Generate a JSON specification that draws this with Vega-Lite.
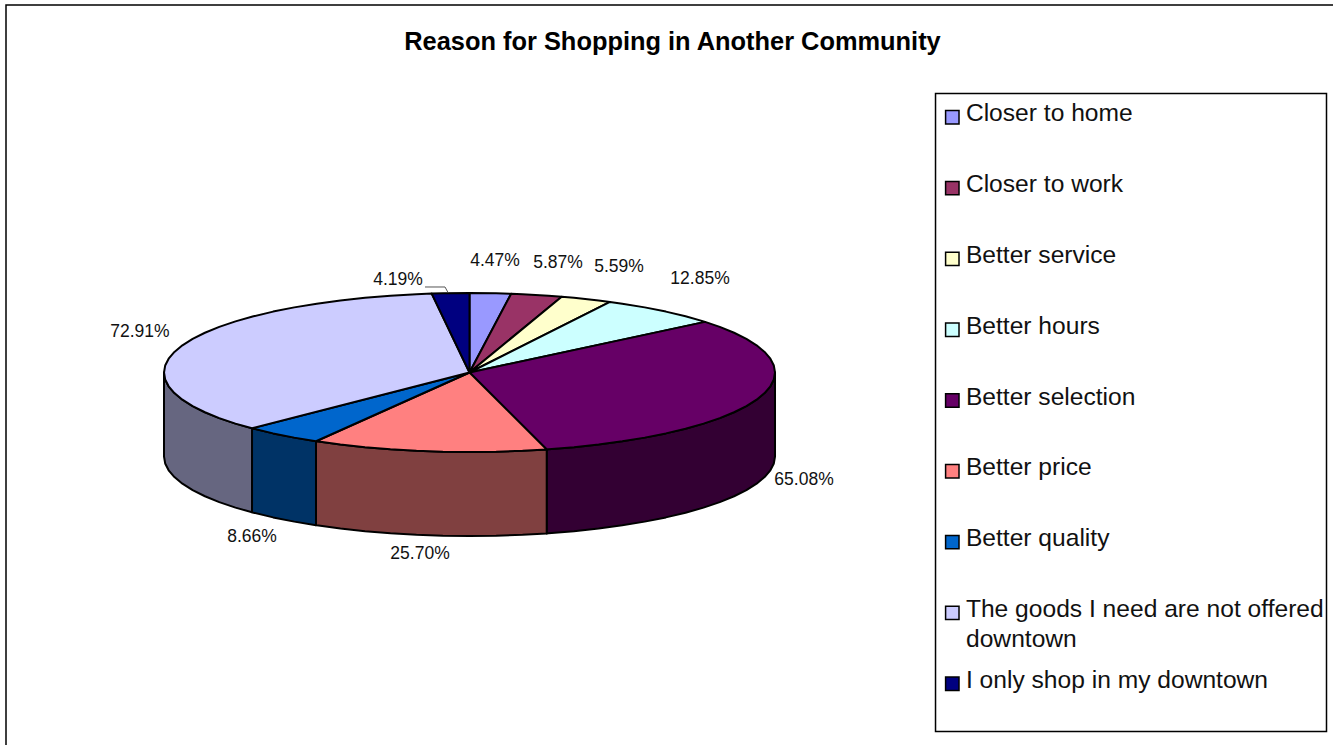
{
"$schema":"https://vega.github.io/schema/vega-lite/v6.json",
"width":1326,"height":740,
"autosize":{"type":"none"},
"padding":{"left":6,"top":5,"right":1,"bottom":0},
"background":"white",
"view":{"stroke":null},
"title":{"text":"Reason for Shopping in Another Community","font":"Liberation Sans","fontSize":25.4,"fontWeight":"bold","color":"black","anchor":"middle","offset":-51,"dx":3.5},
"datasets":{
"frames":[
{"name":"chart","x":-1.5172,"x2":2.9,"y":4.6226,"y2":-5.0},
{"name":"legend","x":1.5254,"x2":2.8052,"y":3.5094,"y2":-4.5157}],
"shares":[
{"slice":"Closer to home","share":4.47,"x":0.0835,"y":1.402},
{"slice":"Closer to work","share":5.87,"x":0.2897,"y":1.377},
{"slice":"Better service","share":5.59,"x":0.4894,"y":1.327},
{"slice":"Better hours","share":12.85,"x":0.7545,"y":1.176},
{"slice":"Better selection","share":65.08,"x":1.095,"y":-1.353},
{"slice":"Better price","share":25.70,"x":-0.162,"y":-2.283},
{"slice":"Better quality","share":8.66,"x":-0.712,"y":-2.07},
{"slice":"The goods I need are not offered downtown","share":72.91,"x":-1.079,"y":0.509},
{"slice":"I only shop in my downtown","share":4.19,"x":-0.234,"y":1.163}],
"legendWrap":[{"text":"downtown","x":1.6252,"y":-3.365}],
"leader":[
{"seq":1,"x":-0.1457,"y":1.0755},
{"seq":2,"x":-0.0802,"y":1.0755},
{"seq":3,"x":-0.0704,"y":1.0063}],
"walls":[
{"slice":"Better selection","x":1,"y":0,"y2":-1.0566},
{"slice":"Better selection","x":0.9962,"y":-0.0872,"y2":-1.1438},
{"slice":"Better selection","x":0.9848,"y":-0.1736,"y2":-1.2302},
{"slice":"Better selection","x":0.9659,"y":-0.2588,"y2":-1.3154},
{"slice":"Better selection","x":0.9397,"y":-0.342,"y2":-1.3986},
{"slice":"Better selection","x":0.9063,"y":-0.4226,"y2":-1.4792},
{"slice":"Better selection","x":0.866,"y":-0.5,"y2":-1.5566},
{"slice":"Better selection","x":0.8192,"y":-0.5736,"y2":-1.6302},
{"slice":"Better selection","x":0.766,"y":-0.6428,"y2":-1.6994},
{"slice":"Better selection","x":0.7071,"y":-0.7071,"y2":-1.7637},
{"slice":"Better selection","x":0.6428,"y":-0.766,"y2":-1.8226},
{"slice":"Better selection","x":0.5736,"y":-0.8192,"y2":-1.8758},
{"slice":"Better selection","x":0.5,"y":-0.866,"y2":-1.9226},
{"slice":"Better selection","x":0.4226,"y":-0.9063,"y2":-1.9629},
{"slice":"Better selection","x":0.342,"y":-0.9397,"y2":-1.9963},
{"slice":"Better selection","x":0.2588,"y":-0.9659,"y2":-2.0225},
{"slice":"Better selection","x":0.2527,"y":-0.9676,"y2":-2.0242},
{"slice":"Better price","x":0.2527,"y":-0.9676,"y2":-2.0242},
{"slice":"Better price","x":0.1736,"y":-0.9848,"y2":-2.0414},
{"slice":"Better price","x":0.0872,"y":-0.9962,"y2":-2.0528},
{"slice":"Better price","x":0,"y":-1,"y2":-2.0566},
{"slice":"Better price","x":-0.0872,"y":-0.9962,"y2":-2.0528},
{"slice":"Better price","x":-0.1736,"y":-0.9848,"y2":-2.0414},
{"slice":"Better price","x":-0.2588,"y":-0.9659,"y2":-2.0225},
{"slice":"Better price","x":-0.342,"y":-0.9397,"y2":-1.9963},
{"slice":"Better price","x":-0.4226,"y":-0.9063,"y2":-1.9629},
{"slice":"Better price","x":-0.5,"y":-0.866,"y2":-1.9226},
{"slice":"Better price","x":-0.5025,"y":-0.8646,"y2":-1.9212},
{"slice":"Better quality","x":-0.5025,"y":-0.8646,"y2":-1.9212},
{"slice":"Better quality","x":-0.5736,"y":-0.8192,"y2":-1.8758},
{"slice":"Better quality","x":-0.6428,"y":-0.766,"y2":-1.8226},
{"slice":"Better quality","x":-0.7071,"y":-0.7071,"y2":-1.7637},
{"slice":"Better quality","x":-0.7119,"y":-0.7023,"y2":-1.7589},
{"slice":"The goods I need are not offered downtown","x":-0.7119,"y":-0.7023,"y2":-1.7589},
{"slice":"The goods I need are not offered downtown","x":-0.766,"y":-0.6428,"y2":-1.6994},
{"slice":"The goods I need are not offered downtown","x":-0.8192,"y":-0.5736,"y2":-1.6302},
{"slice":"The goods I need are not offered downtown","x":-0.866,"y":-0.5,"y2":-1.5566},
{"slice":"The goods I need are not offered downtown","x":-0.9063,"y":-0.4226,"y2":-1.4792},
{"slice":"The goods I need are not offered downtown","x":-0.9397,"y":-0.342,"y2":-1.3986},
{"slice":"The goods I need are not offered downtown","x":-0.9659,"y":-0.2588,"y2":-1.3154},
{"slice":"The goods I need are not offered downtown","x":-0.9848,"y":-0.1736,"y2":-1.2302},
{"slice":"The goods I need are not offered downtown","x":-0.9962,"y":-0.0872,"y2":-1.1438},
{"slice":"The goods I need are not offered downtown","x":-1,"y":0,"y2":-1.0566}],
"tops":[
{"slice":"Closer to home","seq":1,"x":0,"y":0},
{"slice":"Closer to home","seq":2,"x":0,"y":1},
{"slice":"Closer to home","seq":3,"x":0.0872,"y":0.9962},
{"slice":"Closer to home","seq":4,"x":0.1364,"y":0.9907},
{"slice":"Closer to home","seq":5,"x":0,"y":0},
{"slice":"Closer to work","seq":1,"x":0,"y":0},
{"slice":"Closer to work","seq":2,"x":0.1364,"y":0.9907},
{"slice":"Closer to work","seq":3,"x":0.1736,"y":0.9848},
{"slice":"Closer to work","seq":4,"x":0.2588,"y":0.9659},
{"slice":"Closer to work","seq":5,"x":0.3018,"y":0.9534},
{"slice":"Closer to work","seq":6,"x":0,"y":0},
{"slice":"Better service","seq":1,"x":0,"y":0},
{"slice":"Better service","seq":2,"x":0.3018,"y":0.9534},
{"slice":"Better service","seq":3,"x":0.342,"y":0.9397},
{"slice":"Better service","seq":4,"x":0.4226,"y":0.9063},
{"slice":"Better service","seq":5,"x":0.4599,"y":0.888},
{"slice":"Better service","seq":6,"x":0,"y":0},
{"slice":"Better hours","seq":1,"x":0,"y":0},
{"slice":"Better hours","seq":2,"x":0.4599,"y":0.888},
{"slice":"Better hours","seq":3,"x":0.5,"y":0.866},
{"slice":"Better hours","seq":4,"x":0.5736,"y":0.8192},
{"slice":"Better hours","seq":5,"x":0.6428,"y":0.766},
{"slice":"Better hours","seq":6,"x":0.7071,"y":0.7071},
{"slice":"Better hours","seq":7,"x":0.766,"y":0.6428},
{"slice":"Better hours","seq":8,"x":0.7711,"y":0.6367},
{"slice":"Better hours","seq":9,"x":0,"y":0},
{"slice":"Better selection","seq":1,"x":0,"y":0},
{"slice":"Better selection","seq":2,"x":0.7711,"y":0.6367},
{"slice":"Better selection","seq":3,"x":0.8192,"y":0.5736},
{"slice":"Better selection","seq":4,"x":0.866,"y":0.5},
{"slice":"Better selection","seq":5,"x":0.9063,"y":0.4226},
{"slice":"Better selection","seq":6,"x":0.9397,"y":0.342},
{"slice":"Better selection","seq":7,"x":0.9659,"y":0.2588},
{"slice":"Better selection","seq":8,"x":0.9848,"y":0.1736},
{"slice":"Better selection","seq":9,"x":0.9962,"y":0.0872},
{"slice":"Better selection","seq":10,"x":1,"y":0},
{"slice":"Better selection","seq":11,"x":0.9962,"y":-0.0872},
{"slice":"Better selection","seq":12,"x":0.9848,"y":-0.1736},
{"slice":"Better selection","seq":13,"x":0.9659,"y":-0.2588},
{"slice":"Better selection","seq":14,"x":0.9397,"y":-0.342},
{"slice":"Better selection","seq":15,"x":0.9063,"y":-0.4226},
{"slice":"Better selection","seq":16,"x":0.866,"y":-0.5},
{"slice":"Better selection","seq":17,"x":0.8192,"y":-0.5736},
{"slice":"Better selection","seq":18,"x":0.766,"y":-0.6428},
{"slice":"Better selection","seq":19,"x":0.7071,"y":-0.7071},
{"slice":"Better selection","seq":20,"x":0.6428,"y":-0.766},
{"slice":"Better selection","seq":21,"x":0.5736,"y":-0.8192},
{"slice":"Better selection","seq":22,"x":0.5,"y":-0.866},
{"slice":"Better selection","seq":23,"x":0.4226,"y":-0.9063},
{"slice":"Better selection","seq":24,"x":0.342,"y":-0.9397},
{"slice":"Better selection","seq":25,"x":0.2588,"y":-0.9659},
{"slice":"Better selection","seq":26,"x":0.2527,"y":-0.9676},
{"slice":"Better selection","seq":27,"x":0,"y":0},
{"slice":"Better price","seq":1,"x":0,"y":0},
{"slice":"Better price","seq":2,"x":0.2527,"y":-0.9676},
{"slice":"Better price","seq":3,"x":0.1736,"y":-0.9848},
{"slice":"Better price","seq":4,"x":0.0872,"y":-0.9962},
{"slice":"Better price","seq":5,"x":0,"y":-1},
{"slice":"Better price","seq":6,"x":-0.0872,"y":-0.9962},
{"slice":"Better price","seq":7,"x":-0.1736,"y":-0.9848},
{"slice":"Better price","seq":8,"x":-0.2588,"y":-0.9659},
{"slice":"Better price","seq":9,"x":-0.342,"y":-0.9397},
{"slice":"Better price","seq":10,"x":-0.4226,"y":-0.9063},
{"slice":"Better price","seq":11,"x":-0.5,"y":-0.866},
{"slice":"Better price","seq":12,"x":-0.5025,"y":-0.8646},
{"slice":"Better price","seq":13,"x":0,"y":0},
{"slice":"Better quality","seq":1,"x":0,"y":0},
{"slice":"Better quality","seq":2,"x":-0.5025,"y":-0.8646},
{"slice":"Better quality","seq":3,"x":-0.5736,"y":-0.8192},
{"slice":"Better quality","seq":4,"x":-0.6428,"y":-0.766},
{"slice":"Better quality","seq":5,"x":-0.7071,"y":-0.7071},
{"slice":"Better quality","seq":6,"x":-0.7119,"y":-0.7023},
{"slice":"Better quality","seq":7,"x":0,"y":0},
{"slice":"The goods I need are not offered downtown","seq":1,"x":0,"y":0},
{"slice":"The goods I need are not offered downtown","seq":2,"x":-0.7119,"y":-0.7023},
{"slice":"The goods I need are not offered downtown","seq":4,"x":-0.766,"y":-0.6428},
{"slice":"The goods I need are not offered downtown","seq":5,"x":-0.8192,"y":-0.5736},
{"slice":"The goods I need are not offered downtown","seq":6,"x":-0.866,"y":-0.5},
{"slice":"The goods I need are not offered downtown","seq":7,"x":-0.9063,"y":-0.4226},
{"slice":"The goods I need are not offered downtown","seq":8,"x":-0.9397,"y":-0.342},
{"slice":"The goods I need are not offered downtown","seq":9,"x":-0.9659,"y":-0.2588},
{"slice":"The goods I need are not offered downtown","seq":10,"x":-0.9848,"y":-0.1736},
{"slice":"The goods I need are not offered downtown","seq":11,"x":-0.9962,"y":-0.0872},
{"slice":"The goods I need are not offered downtown","seq":12,"x":-1,"y":0},
{"slice":"The goods I need are not offered downtown","seq":13,"x":-0.9962,"y":0.0872},
{"slice":"The goods I need are not offered downtown","seq":14,"x":-0.9848,"y":0.1736},
{"slice":"The goods I need are not offered downtown","seq":15,"x":-0.9659,"y":0.2588},
{"slice":"The goods I need are not offered downtown","seq":16,"x":-0.9397,"y":0.342},
{"slice":"The goods I need are not offered downtown","seq":17,"x":-0.9063,"y":0.4226},
{"slice":"The goods I need are not offered downtown","seq":18,"x":-0.866,"y":0.5},
{"slice":"The goods I need are not offered downtown","seq":19,"x":-0.8192,"y":0.5736},
{"slice":"The goods I need are not offered downtown","seq":20,"x":-0.766,"y":0.6428},
{"slice":"The goods I need are not offered downtown","seq":21,"x":-0.7071,"y":0.7071},
{"slice":"The goods I need are not offered downtown","seq":22,"x":-0.6428,"y":0.766},
{"slice":"The goods I need are not offered downtown","seq":23,"x":-0.5736,"y":0.8192},
{"slice":"The goods I need are not offered downtown","seq":24,"x":-0.5,"y":0.866},
{"slice":"The goods I need are not offered downtown","seq":25,"x":-0.4226,"y":0.9063},
{"slice":"The goods I need are not offered downtown","seq":26,"x":-0.342,"y":0.9397},
{"slice":"The goods I need are not offered downtown","seq":27,"x":-0.2588,"y":0.9659},
{"slice":"The goods I need are not offered downtown","seq":28,"x":-0.1736,"y":0.9848},
{"slice":"The goods I need are not offered downtown","seq":29,"x":-0.1237,"y":0.9923},
{"slice":"The goods I need are not offered downtown","seq":30,"x":0,"y":0},
{"slice":"I only shop in my downtown","seq":1,"x":0,"y":0},
{"slice":"I only shop in my downtown","seq":2,"x":-0.1237,"y":0.9923},
{"slice":"I only shop in my downtown","seq":3,"x":-0.0872,"y":0.9962},
{"slice":"I only shop in my downtown","seq":4,"x":0,"y":1},
{"slice":"I only shop in my downtown","seq":5,"x":0,"y":0}]
},
"encoding":{
"x":{"field":"x","type":"quantitative","axis":null,"scale":{"domain":[-1.5172,2.8232],"nice":false,"zero":false}},
"y":{"field":"y","type":"quantitative","axis":null,"scale":{"domain":[-4.6855,4.6226],"nice":false,"zero":false}}
},
"layer":[
{"data":{"name":"frames"},
 "mark":{"type":"rect","fill":"white","stroke":"black","strokeWidth":1.5,"clip":false},
 "encoding":{"x2":{"field":"x2"},"y2":{"field":"y2"}}},
{"data":{"name":"walls"},
 "mark":{"type":"area","stroke":"black","strokeWidth":2,"strokeJoin":"round"},
 "encoding":{
  "y2":{"field":"y2"},
  "detail":{"field":"slice"},
  "fill":{"field":"slice","type":"nominal","legend":null,
   "scale":{"domain":["Better selection","Better price","Better quality","The goods I need are not offered downtown"],"range":["#330033","#804040","#003366","#666680"]}}}},
{"data":{"name":"tops"},
 "mark":{"type":"line","stroke":"black","strokeWidth":2,"strokeJoin":"round"},
 "encoding":{
  "order":{"field":"seq","type":"quantitative"},
  "fill":{"field":"slice","type":"nominal",
   "scale":{"domain":["Closer to home","Closer to work","Better service","Better hours","Better selection","Better price","Better quality","The goods I need are not offered downtown","I only shop in my downtown"],
    "range":["#9999FF","#993366","#FFFFCC","#CCFFFF","#660066","#FF8080","#0066CC","#CCCCFF","#000080"]},
   "legend":{"title":null,"orient":"none","legendX":934,"legendY":100,"padding":0,
    "symbolType":"square","symbolSize":180,"symbolStrokeColor":"black","symbolStrokeWidth":1.5,"symbolOpacity":1,
    "labelFont":"Liberation Sans","labelFontSize":24.6,"labelColor":"#111111","labelLimit":400,"labelOffset":1.3,
    "rowPadding":43.8,"columns":1,
    "labelExpr":"datum.label == 'The goods I need are not offered downtown' ? 'The goods I need are not offered' : datum.label",
    "encode":{"labels":{"update":{"dy":{"value":-3}}}}}}}},
{"data":{"name":"leader"},
 "mark":{"type":"line","stroke":"#555555","strokeWidth":1},
 "encoding":{"order":{"field":"seq","type":"quantitative"}}},
{"data":{"name":"shares"},
 "transform":[{"calculate":"format(datum.share,'.2f') + '%'","as":"label"}],
 "mark":{"type":"text","font":"Liberation Sans","fontSize":17.5,"color":"#111111","align":"center","baseline":"middle"},
 "encoding":{"text":{"field":"label","type":"nominal"}}},
{"data":{"name":"legendWrap"},
 "mark":{"type":"text","font":"Liberation Sans","fontSize":24.6,"color":"#111111","align":"left","baseline":"middle"},
 "encoding":{"text":{"field":"text","type":"nominal"}}}
],
"resolve":{"scale":{"fill":"independent"}}
}
